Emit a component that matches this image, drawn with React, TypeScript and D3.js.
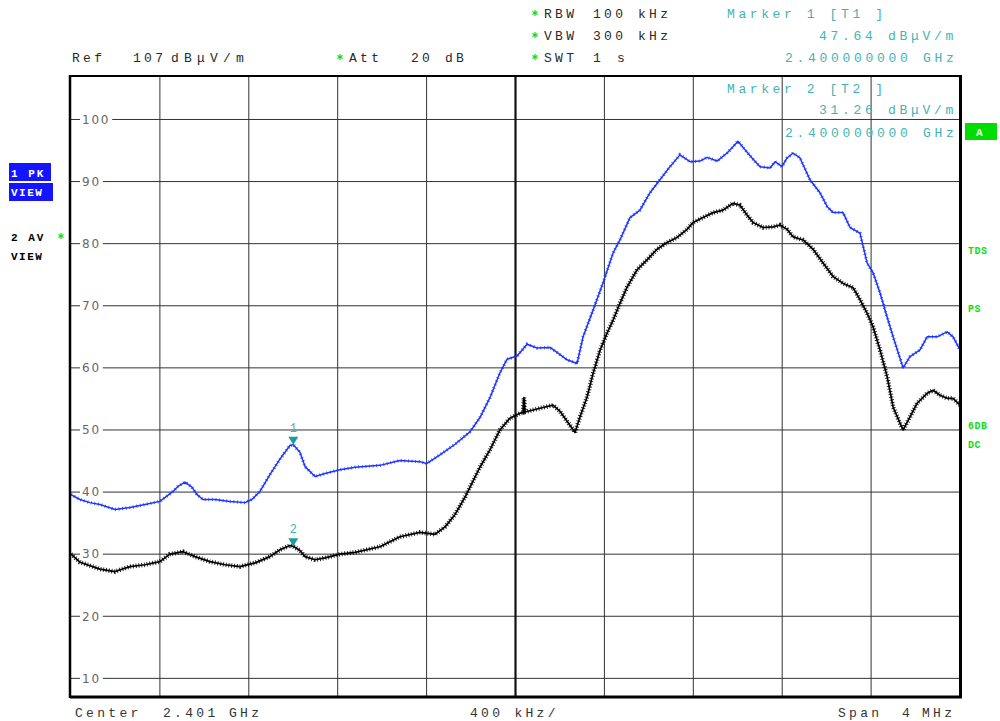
import React from 'react';
import * as d3 from 'd3';

// Sweep settings (frequency in MHz, level in dBµV/m)
const FREQ_START = 2399;
const FREQ_STOP = 2403;
const LEVEL_TOP = 107;
const LEVEL_BOTTOM = 7;

const levelTicks = [100, 90, 80, 70, 60, 50, 40, 30, 20, 10];
const freqGrid = [2399.4, 2399.8, 2400.2, 2400.6, 2401.4, 2401.8, 2402.2, 2402.6];
const centerFreq = 2401.0;

// Trace 1: max peak
const pkFreq = [
  2399.0, 2399.04, 2399.085, 2399.13, 2399.198, 2399.265, 2399.333, 2399.4, 2399.459, 2399.481,
  2399.513, 2399.544, 2399.567, 2399.594, 2399.648, 2399.715, 2399.783, 2399.814, 2399.85, 2399.895,
  2399.94, 2399.985, 2400.0, 2400.03, 2400.053, 2400.098, 2400.143, 2400.21, 2400.278, 2400.39,
  2400.48, 2400.57, 2400.6, 2400.66, 2400.728, 2400.795, 2400.84, 2400.885, 2400.93, 2400.962,
  2401.007, 2401.052, 2401.097, 2401.155, 2401.187, 2401.232, 2401.277, 2401.304, 2401.349, 2401.394,
  2401.439, 2401.47, 2401.515, 2401.56, 2401.605, 2401.65, 2401.695, 2401.74, 2401.785, 2401.83,
  2401.862, 2401.907, 2401.952, 2401.979, 2402.001, 2402.033, 2402.064, 2402.1, 2402.145, 2402.168,
  2402.199, 2402.222, 2402.249, 2402.28, 2402.325, 2402.37, 2402.402, 2402.429, 2402.474, 2402.505,
  2402.55, 2402.582, 2402.609, 2402.64, 2402.672, 2402.699, 2402.744, 2402.775, 2402.82, 2402.852,
  2402.897, 2402.942, 2402.969, 2403.0,
];
const pkLevel = [
  39.6, 38.8, 38.3, 38.0, 37.2, 37.5, 38.0, 38.5, 40.1, 40.9,
  41.6, 40.8, 39.6, 38.8, 38.8, 38.5, 38.3, 38.8, 40.1, 42.8,
  45.3, 47.5, 47.64, 46.4, 44.1, 42.5, 43.0, 43.6, 44.0, 44.3,
  45.1, 44.9, 44.6, 46.0, 47.7, 49.7, 52.0, 55.2, 59.2, 61.4,
  61.9, 63.8, 63.2, 63.3, 62.5, 61.3, 60.7, 65.0, 69.3, 73.7,
  78.5, 80.6, 84.2, 85.4, 88.2, 90.3, 92.4, 94.3, 93.2, 93.3,
  93.9, 93.3, 94.6, 95.6, 96.5, 95.1, 93.8, 92.4, 92.2, 93.2,
  92.4, 93.8, 94.6, 93.8, 90.3, 88.2, 86.0, 85.0, 85.0, 82.6,
  81.7, 76.9, 75.3, 72.1, 68.2, 65.0, 60.0, 61.8, 62.9, 65.0,
  65.0, 65.8, 65.0, 62.9,
];

// Trace 2: average
const avFreq = [
  2399.0, 2399.04, 2399.13, 2399.198, 2399.265, 2399.333, 2399.4, 2399.445, 2399.504, 2399.558,
  2399.625, 2399.693, 2399.76, 2399.828, 2399.895, 2399.94, 2399.985, 2400.0, 2400.03, 2400.053,
  2400.098, 2400.143, 2400.21, 2400.278, 2400.39, 2400.48, 2400.57, 2400.638, 2400.683, 2400.728,
  2400.773, 2400.84, 2400.885, 2400.93, 2400.975, 2401.02, 2401.034, 2401.038, 2401.043, 2401.11,
  2401.169, 2401.2, 2401.232, 2401.268, 2401.29, 2401.322, 2401.349, 2401.38, 2401.412, 2401.439,
  2401.47, 2401.502, 2401.547, 2401.592, 2401.637, 2401.682, 2401.727, 2401.772, 2401.799, 2401.844,
  2401.889, 2401.934, 2401.979, 2402.01, 2402.042, 2402.069, 2402.114, 2402.159, 2402.19, 2402.222,
  2402.249, 2402.294, 2402.339, 2402.384, 2402.429, 2402.474, 2402.519, 2402.55, 2402.582, 2402.609,
  2402.64, 2402.672, 2402.699, 2402.73, 2402.744, 2402.775, 2402.807, 2402.852, 2402.879, 2402.91,
  2402.942, 2402.969, 2403.0,
];
const avLevel = [
  30.0, 28.7, 27.6, 27.2, 28.0, 28.3, 28.8, 30.0, 30.4, 29.6,
  28.8, 28.3, 28.0, 28.6, 29.6, 30.7, 31.4, 31.26, 30.6, 29.6,
  29.1, 29.4, 30.0, 30.3, 31.2, 32.8, 33.5, 33.2, 34.4, 36.4,
  39.2, 44.0, 46.8, 50.0, 51.9, 52.7, 52.8, 55.2, 52.9, 53.5,
  54.0, 53.0, 51.4, 49.6, 52.1, 55.3, 59.1, 62.8, 65.6, 67.7,
  70.4, 73.0, 75.8, 77.4, 79.1, 80.2, 81.0, 82.3, 83.4, 84.2,
  85.0, 85.4, 86.5, 86.2, 84.6, 83.4, 82.6, 82.7, 83.0, 82.3,
  81.1, 80.6, 79.1, 76.9, 74.7, 73.6, 72.9, 71.0, 68.8, 66.6,
  62.9, 58.6, 53.7, 51.1, 50.0, 52.1, 54.3, 55.9, 56.4, 55.6,
  55.1, 55.1, 54.0,
];

// Markers
const markerIds = ['1', '2'];
const markerFreq = [2400.0, 2400.0];
const markerLevel = [47.64, 31.26];
const markerTrace = ['T1', 'T2'];

const MONO = "'Liberation Mono', 'DejaVu Sans Mono', monospace";
const TEXT_DARK = '#2a2a2a';
const TEAL = '#44b3b3';
const GREEN = '#11dd11';
const BLUE = '#1c34ff';

const plot = { left: 71, right: 960, top: 76, bottom: 697 };

const x = d3.scaleLinear().domain([FREQ_START, FREQ_STOP]).range([plot.left, plot.right]);
const y = d3.scaleLinear().domain([LEVEL_BOTTOM, LEVEL_TOP]).range([plot.bottom, plot.top]);

const lineGen = d3
  .line<[number, number]>()
  .x((d) => x(d[0]))
  .y((d) => y(d[1]));

const pkPath = lineGen(pkFreq.map((f, i) => [f, pkLevel[i]] as [number, number])) || '';
const avPath = lineGen(avFreq.map((f, i) => [f, avLevel[i]] as [number, number])) || '';

function Mono(props: {
  x: number;
  y: number;
  children: React.ReactNode;
  fill?: string;
  size?: number;
  spacing?: number;
  bold?: boolean;
}) {
  return (
    <text
      x={props.x}
      y={props.y}
      fill={props.fill || TEXT_DARK}
      fontFamily={MONO}
      fontSize={props.size || 13}
      fontWeight={props.bold ? 'bold' : 'normal'}
      style={{ letterSpacing: `${props.spacing ?? 3.3}px`, whiteSpace: 'pre' }}
    >
      {props.children}
    </text>
  );
}

function Star({ cx, cy }: { cx: number; cy: number }) {
  const r = 3;
  const spokes = [0, 60, 120];
  return (
    <g stroke={GREEN} strokeWidth={1.2}>
      {spokes.map((a) => {
        const rad = (a * Math.PI) / 180 + Math.PI / 2;
        return (
          <line
            key={a}
            x1={cx - r * Math.cos(rad)}
            y1={cy - r * Math.sin(rad)}
            x2={cx + r * Math.cos(rad)}
            y2={cy + r * Math.sin(rad)}
          />
        );
      })}
    </g>
  );
}

export default function App() {
  return (
    <svg
      width={1000}
      height={721}
      viewBox="0 0 1000 721"
      style={{ position: 'absolute', left: 0, top: 0, background: '#fff' }}
    >
      <rect x={0} y={0} width={1000} height={721} fill="#fff" />

      {/* header: instrument settings */}
      <Mono x={72} y={62}>Ref</Mono>
      <Mono x={133} y={62}>107</Mono>
      <Mono x={171} y={62} spacing={5.2}>dBμV/m</Mono>
      <Star cx={340} cy={57} />
      <Mono x={349} y={62}>Att</Mono>
      <Mono x={411} y={62}>20</Mono>
      <Mono x={445} y={62}>dB</Mono>

      <Star cx={535} cy={13} />
      <Mono x={544} y={18}>RBW</Mono>
      <Mono x={593} y={18}>100</Mono>
      <Mono x={638} y={18}>kHz</Mono>
      <Star cx={535} cy={35} />
      <Mono x={544} y={40}>VBW</Mono>
      <Mono x={593} y={40}>300</Mono>
      <Mono x={638} y={40}>kHz</Mono>
      <Star cx={535} cy={57} />
      <Mono x={544} y={62}>SWT</Mono>
      <Mono x={593} y={62}>1</Mono>
      <Mono x={617} y={62}>s</Mono>

      {/* horizontal grid + level labels */}
      {levelTicks.map((v) => (
        <line key={'h' + v} x1={plot.left} x2={plot.right} y1={y(v)} y2={y(v)} stroke="#333" strokeWidth={1} />
      ))}
      {levelTicks.map((v) => {
        const w = String(v).length * 9.4;
        return (
          <g key={'l' + v}>
            <rect x={80} y={y(v) - 5} width={w + 4} height={10} fill="#fff" />
            <text
              x={82}
              y={y(v) + 4.3}
              fill="#666"
              fontFamily="'DejaVu Sans', sans-serif"
              fontSize={12}
              style={{ letterSpacing: '1.8px' }}
            >
              {v}
            </text>
          </g>
        );
      })}

      {/* vertical grid */}
      {freqGrid.map((f) => (
        <line key={'v' + f} x1={x(f)} x2={x(f)} y1={plot.top} y2={plot.bottom} stroke="#333" strokeWidth={1} />
      ))}
      <line x1={x(centerFreq)} x2={x(centerFreq)} y1={plot.top} y2={plot.bottom} stroke="#111" strokeWidth={2.2} />

      {/* marker readouts */}
      <Mono x={727} y={18} fill={TEAL} spacing={3.6}>{`Marker ${markerIds[0]} [${markerTrace[0]} ]`}</Mono>
      <Mono x={819} y={40} fill={TEAL} spacing={3.7}>{`${markerLevel[0].toFixed(2)} dBμV/m`}</Mono>
      <Mono x={785} y={62} fill={TEAL} spacing={3.7}>{`${(markerFreq[0] / 1000).toFixed(9)} GHz`}</Mono>
      <Mono x={727} y={93} fill={TEAL} spacing={3.6}>{`Marker ${markerIds[1]} [${markerTrace[1]} ]`}</Mono>
      <Mono x={819} y={114} fill={TEAL} spacing={3.7}>{`${markerLevel[1].toFixed(2)} dBμV/m`}</Mono>
      <Mono x={785} y={137} fill={TEAL} spacing={3.7}>{`${(markerFreq[1] / 1000).toFixed(9)} GHz`}</Mono>

      {/* traces */}
      <defs>
        <clipPath id="plotClip">
          <rect x={plot.left} y={plot.top} width={plot.right - plot.left} height={plot.bottom - plot.top} />
        </clipPath>
      </defs>
      <g clipPath="url(#plotClip)">
        <path d={pkPath} fill="none" stroke={BLUE} strokeWidth={1.5} strokeLinejoin="round" />
        <path d={pkPath} fill="none" stroke={BLUE} strokeWidth={3.4} strokeDasharray="0.8 2.8" opacity={0.85} />
        <path d={avPath} fill="none" stroke="#000" strokeWidth={1.7} strokeLinejoin="round" />
        <path d={avPath} fill="none" stroke="#000" strokeWidth={4.6} strokeDasharray="0.9 1.9" opacity={0.9} />
      </g>

      {/* marker symbols */}
      {markerIds.map((id, i) => {
        const mx = x(markerFreq[i]);
        const my = y(markerLevel[i]);
        return (
          <g key={'m' + id}>
            <path d={`M${mx - 5},${my - 8} L${mx + 5},${my - 8} L${mx},${my} Z`} fill="#1a9c9c" />
            <text
              x={mx}
              y={my - 13}
              textAnchor="middle"
              fill={TEAL}
              fontFamily={MONO}
              fontSize={12}
            >
              {id}
            </text>
          </g>
        );
      })}

      {/* frame */}
      <line x1={70} x2={961} y1={plot.top} y2={plot.top} stroke="#000" strokeWidth={2} />
      <line x1={70} x2={962} y1={plot.bottom} y2={plot.bottom} stroke="#000" strokeWidth={3} />
      <line x1={70} x2={70} y1={plot.top - 1} y2={plot.bottom + 1} stroke="#000" strokeWidth={2.5} />
      <line x1={960.5} x2={960.5} y1={plot.top - 1} y2={plot.bottom + 1} stroke="#000" strokeWidth={3} />

      {/* trace legends on the left */}
      <rect x={9} y={163} width={42} height={18} fill="#1414ff" />
      <rect x={9} y={183} width={44} height={18} fill="#1414ff" />
      <Mono x={11} y={177} fill="#fff" size={11} spacing={2} bold>1 PK</Mono>
      <Mono x={11} y={196} fill="#fff" size={11} spacing={1.5} bold>VIEW</Mono>
      <Mono x={11} y={241} fill="#000" size={11} spacing={2} bold>2 AV</Mono>
      <Star cx={61} cy={236} />
      <Mono x={11} y={260} fill="#000" size={11} spacing={1.5} bold>VIEW</Mono>

      {/* status flags on the right */}
      <rect x={965} y={123} width={32} height={17} fill="#00dd00" />
      <Mono x={976} y={136} fill="#fff" size={11} spacing={0} bold>A</Mono>
      <Mono x={968} y={254} fill={GREEN} size={10} spacing={0.5} bold>TDS</Mono>
      <Mono x={968} y={312} fill={GREEN} size={10} spacing={0.5} bold>PS</Mono>
      <Mono x={968} y={429} fill={GREEN} size={10} spacing={0.5} bold>6DB</Mono>
      <Mono x={968} y={448} fill={GREEN} size={10} spacing={0.5} bold>DC</Mono>

      {/* footer */}
      <Mono x={75} y={717} fill="#333">Center</Mono>
      <Mono x={163} y={717} fill="#333">2.401</Mono>
      <Mono x={229} y={717} fill="#333">GHz</Mono>
      <Mono x={470} y={717} fill="#333">400 kHz/</Mono>
      <Mono x={838} y={717} fill="#333">Span</Mono>
      <Mono x={902} y={717} fill="#333">4</Mono>
      <Mono x={922} y={717} fill="#333">MHz</Mono>
    </svg>
  );
}
